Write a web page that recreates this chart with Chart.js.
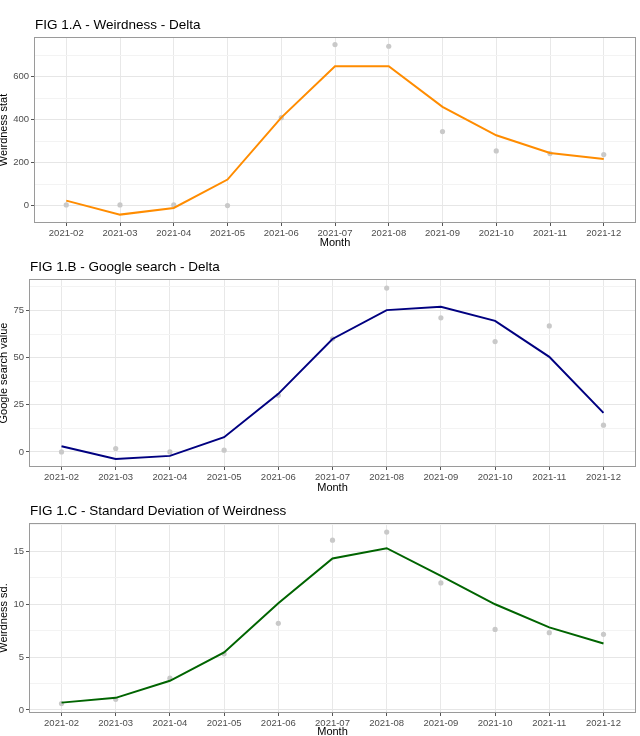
<!DOCTYPE html>
<html>
<head>
<meta charset="utf-8">
<script src="https://cdn.jsdelivr.net/npm/chart.js@4"></script>
<style>
  html, body { margin: 0; padding: 0; background: #fff; }
  body { width: 640px; height: 736px; position: relative; overflow: hidden; }
  canvas { position: absolute; left: 0; }
</style>
</head>
<body>
<canvas id="figA" width="640" height="250" style="top:0px"></canvas>
<canvas id="figB" width="640" height="245" style="top:250px"></canvas>
<canvas id="figC" width="640" height="244" style="top:495px"></canvas>
<script>
const months = ['2021-02', '2021-03', '2021-04', '2021-05', '2021-06', '2021-07',
  '2021-08', '2021-09', '2021-10', '2021-11', '2021-12'];

// FIG 1.A
const weirdLine = [23, -42, -11, 121, 409, 648, 648, 459, 327, 245, 217];
const weirdPoints = [3, 3, 3, 0, 409, 749, 741, 344, 254, 242, 237];
const weirdTicks = [0, 200, 400, 600];
const weirdMinor = [100, 300, 500, 700];

// FIG 1.B
const googleLine = [3.0, -3.7, -2.1, 7.8, 30.8, 59.9, 75.2, 77.0, 69.5, 50.4, 20.7];
const googlePoints = [0, 1.8, 0, 0.9, 30, 60, 86.9, 71.1, 58.5, 66.8, 14.2];
const googleTicks = [0, 25, 50, 75];
const googleMinor = [12.5, 37.5, 62.5, 87.5];

// FIG 1.C
const sdLine = [0.69, 1.14, 2.75, 5.43, 10.07, 14.31, 15.28, 12.66, 9.98, 7.80, 6.28];
const sdPoints = [0.6, 1.0, 3.0, 5.3, 8.18, 16.04, 16.8, 12.0, 7.61, 7.3, 7.14];
const sdTicks = [0, 5, 10, 15];
const sdMinor = [2.5, 7.5, 12.5, 17.5];

const FONT = '"Liberation Sans", Arial, Helvetica, sans-serif';

// panel border + left aligned title (ggplot style)
const panelDecor = {
  id: 'panelDecor',
  afterDraw(chart, args, opts) {
    const { ctx, chartArea } = chart;
    ctx.save();
    ctx.strokeStyle = '#9a9a9a';
    ctx.lineWidth = 1;
    ctx.strokeRect(chartArea.left + 0.5, chartArea.top + 0.5,
      chartArea.right - chartArea.left - 1, chartArea.bottom - chartArea.top - 1);
    ctx.fillStyle = '#000';
    ctx.font = '13.5px ' + FONT;
    ctx.textBaseline = 'middle';
    ctx.textAlign = 'left';
    ctx.fillText(opts.text, chartArea.left + 1, chartArea.top - 12);
    ctx.restore();
  }
};

function makePanel(id, title, yTitle, lineVals, pointVals, color, yMin, yMax, majors, minors, leftW, topPad, xAxisH) {
  const ctx = document.getElementById(id).getContext('2d');
  return new Chart(ctx, {
    type: 'line',
    data: {
      datasets: [
        {
          data: lineVals.map((v, i) => ({ x: i, y: v })),
          borderColor: color,
          borderWidth: 2,
          pointRadius: 0,
          tension: 0,
          fill: false,
          order: 0
        },
        {
          data: pointVals.map((v, i) => ({ x: i, y: v })),
          showLine: false,
          pointRadius: 2.6,
          pointBackgroundColor: '#c9c9c9',
          pointBorderWidth: 0,
          order: 1
        }
      ]
    },
    options: {
      responsive: false,
      animation: false,
      devicePixelRatio: 1,
      layout: { padding: { top: topPad, right: 0, left: 0, bottom: 0 } },
      plugins: {
        legend: { display: false },
        tooltip: { enabled: false },
        panelDecor: { text: title }
      },
      scales: {
        x: {
          type: 'linear',
          min: -0.6,
          max: 10.6,
          afterBuildTicks: s => { s.ticks = months.map((m, i) => ({ value: i })); },
          afterFit: s => { s.height = xAxisH; s.paddingLeft = 0; s.paddingRight = 0; },
          ticks: {
            autoSkip: false,
            maxRotation: 0,
            padding: 2,
            color: '#4d4d4d',
            font: { family: FONT, size: 9.5 },
            callback: v => months[v]
          },
          grid: { color: '#e8e8e8', lineWidth: 1, tickLength: 3, tickColor: '#555' },
          border: { display: false },
          title: {
            display: true,
            text: 'Month',
            color: '#000',
            padding: 0,
            font: { family: FONT, size: 11 }
          }
        },
        y: {
          type: 'linear',
          min: yMin,
          max: yMax,
          afterBuildTicks: s => {
            s.ticks = majors.concat(minors).filter(v => v >= yMin && v <= yMax)
              .sort((a, b) => a - b).map(v => ({ value: v }));
          },
          afterFit: s => { s.width = leftW; s.paddingTop = 0; s.paddingBottom = 0; },
          ticks: {
            autoSkip: false,
            padding: 2,
            color: '#4d4d4d',
            font: { family: FONT, size: 9.5 },
            callback: v => majors.includes(v) ? String(v) : ''
          },
          grid: {
            color: c => majors.includes(c.tick.value) ? '#e6e6e6' : '#f3f3f3',
            lineWidth: 1,
            tickLength: 3,
            tickColor: c => majors.includes(c.tick.value) ? '#555' : 'rgba(0,0,0,0)'
          },
          border: { display: false },
          title: {
            display: true,
            text: yTitle,
            color: '#000',
            padding: 0,
            font: { family: FONT, size: 11, lineHeight: 0.75 }
          }
        }
      }
    },
    plugins: [panelDecor]
  });
}

makePanel('figA', 'FIG 1.A - Weirdness - Delta', 'Weirdness stat', weirdLine, weirdPoints,
  '#ff8c00', -81, 784, weirdTicks, weirdMinor, 34, 37, 27);
makePanel('figB', 'FIG 1.B - Google search - Delta', 'Google search value', googleLine, googlePoints,
  '#000080', -8, 91.7, googleTicks, googleMinor, 29, 29, 28);
makePanel('figC', 'FIG 1.C - Standard Deviation of Weirdness', 'Weirdness sd.', sdLine, sdPoints,
  '#006400', -0.29, 17.66, sdTicks, sdMinor, 29, 28, 26);
</script>
</body>
</html>
